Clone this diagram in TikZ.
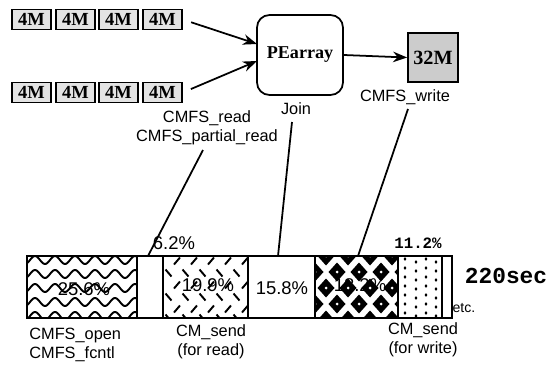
\documentclass[tikz,border=0pt]{standalone}
\usepackage{fontspec}
\setmainfont{Liberation Sans}
\newfontfamily\tserif{Liberation Serif}
\newfontfamily\tmono{Liberation Mono}
\usetikzlibrary{arrows.meta}
\begin{document}
\begin{tikzpicture}[x=0.02cm,y=-0.02cm,
  fourm/.style={draw, line width=0.9pt, fill=gray!22, minimum width=0.78cm, minimum height=0.40cm, inner sep=0pt, font=\tserif\bfseries\fontsize{10.5}{12}\selectfont},
  lbl/.style={inner sep=0pt, align=center, font=\fontsize{9.3}{10.8}\selectfont},
  pct/.style={inner sep=0pt, font=\fontsize{10.5}{12}\selectfont},
  conn/.style={line width=1pt},
  arr/.style={line width=1pt, -{Stealth[length=8pt,width=6pt]}},
  seg/.style={line width=1.1pt}
]
\useasboundingbox (0,0) rectangle (554,365);

% input rows
\node[fourm] (a1) at (31.5,19.5) {4M};
\node[fourm] (a2) at (75.5,19.5) {4M};
\node[fourm] (a3) at (118.5,19.5) {4M};
\node[fourm] (a4) at (162.5,19.5) {4M};
\node[fourm] (b1) at (31.5,92.5) {4M};
\node[fourm] (b2) at (75.5,92.5) {4M};
\node[fourm] (b3) at (118.5,92.5) {4M};
\node[fourm] (b4) at (162.5,92.5) {4M};

% PE array
\node[draw, line width=1pt, rounded corners=0.25cm, minimum width=1.72cm, minimum height=1.6cm, inner sep=0pt,
      font=\tserif\bfseries\fontsize{10.3}{12}\selectfont] (pe) at (300,55) {PEarray};
\node[draw, line width=1pt, fill=gray!40, minimum width=1.0cm, minimum height=0.98cm, inner sep=0pt,
      font=\tserif\bfseries\fontsize{11.5}{12}\selectfont] (m32) at (433,57.5) {32M};

\coordinate (pin1) at (257,44);
\coordinate (pin2) at (257,61);
\draw[arr, shorten <=5pt] (a4.east) -- (pin1);
\draw[arr, shorten <=5pt] (b4.east) -- (pin2);
\draw[arr] (pe.east) -- (m32.west);

% labels above
\node[lbl] (lread) at (207,127.5) {CMFS\_read\\CMFS\_partial\_read};
\node[lbl] (ljoin) at (296,109) {Join};
\node[lbl] (lwrite) at (405,97) {CMFS\_write};

% ---------- bar patterns ----------
% wavy
\begin{scope}
\clip (27,256) rectangle (137,318);
\foreach \yy in {260,274,288,302,316}
  \draw[line width=1.1pt] plot[domain=22:142, samples=120, smooth] (\x,{\yy+4*sin(\x*18)});
\end{scope}
% hatch dashes
\begin{scope}
\clip (163,256) rectangle (248,318);
\foreach \yy in {261,285,309}
  \foreach \xx in {160,177,194,211,228,245}
    \draw[line width=1.1pt] (\xx-3,\yy+3.5) -- (\xx+3,\yy-3.5);
\foreach \yy in {273,297,318}
  \foreach \xx in {168.5,185.5,202.5,219.5,236.5,253.5}
    \draw[line width=1.1pt] (\xx-3,\yy-3.5) -- (\xx+3,\yy+3.5);
\end{scope}
% diamonds
\begin{scope}
\clip (315,256) rectangle (398,318);
\foreach \yy in {256,288,320}
  \foreach \xx in {326,348,370,392}
    {\fill (\xx-8.5,\yy) -- (\xx,\yy-9.5) -- (\xx+8.5,\yy) -- (\xx,\yy+9.5) -- cycle;
     \fill[white] (\xx,\yy) circle (1.5);}
\foreach \yy in {272,304}
  \foreach \xx in {315,337,359,381,403}
    {\fill (\xx-8.5,\yy) -- (\xx,\yy-9.5) -- (\xx+8.5,\yy) -- (\xx,\yy+9.5) -- cycle;
     \fill[white] (\xx,\yy) circle (1.5);}
\end{scope}
% dots
\begin{scope}
\clip (398,256) rectangle (442,318);
\foreach \xx/\off in {405/0,416/3,426/0,436/3}
  \foreach \yy in {259,268,277,286,295,304,313,322}
    \fill (\xx,\yy+\off) ellipse (1.4 and 1.9);
\end{scope}

% segment outlines
\draw[seg] (27,256) rectangle (137,318);
\draw[seg] (137,256) rectangle (163,318);
\draw[seg] (163,256) rectangle (248,318);
\draw[seg] (248,256) rectangle (315,318);
\draw[seg] (315,256) rectangle (398,318);
\draw[seg] (398,256) rectangle (442,318);
\draw[seg] (442,256) rectangle (452,318);

% percentages
\node[pct] (p1) at (84,289) {25.6\%};
\node[pct] (p2) at (174,243) {6.2\%};
\node[pct] (p3) at (208,285) {19.9\%};
\node[pct] (p4) at (282,288) {15.8\%};
\node[pct] (p5) at (360,285) {18.2\%};
\node[inner sep=0pt, font=\tmono\bfseries\fontsize{9}{10}\selectfont] (p6) at (418,243) {11.2\%};
\node[inner sep=0pt, font=\tmono\bfseries\fontsize{13}{14}\selectfont] (tot) at (506,276) {220sec};
\node[inner sep=0pt, font=\fontsize{8}{9}\selectfont] (etc) at (464,308) {etc.};

% connectors from labels to bar
\coordinate (rtop) at (203,150);
\coordinate (rbot) at (148,256);
\coordinate (jtop) at (292,122);
\coordinate (jbot) at (278,256);
\coordinate (wtop) at (408,109);
\coordinate (wbot) at (358,256);
\draw[conn] (rtop) -- (rbot);
\draw[conn] (jtop) -- (jbot);
\draw[conn] (wtop) -- (wbot);

% labels below
\node[lbl, align=left, anchor=west] (lopen) at (29,345) {CMFS\_open\\CMFS\_fcntl};
\node[lbl] (lsr) at (211,342) {CM\_send\\(for read)};
\node[lbl] (lsw) at (423,340) {CM\_send\\(for write)};
\end{tikzpicture}
\end{document}
